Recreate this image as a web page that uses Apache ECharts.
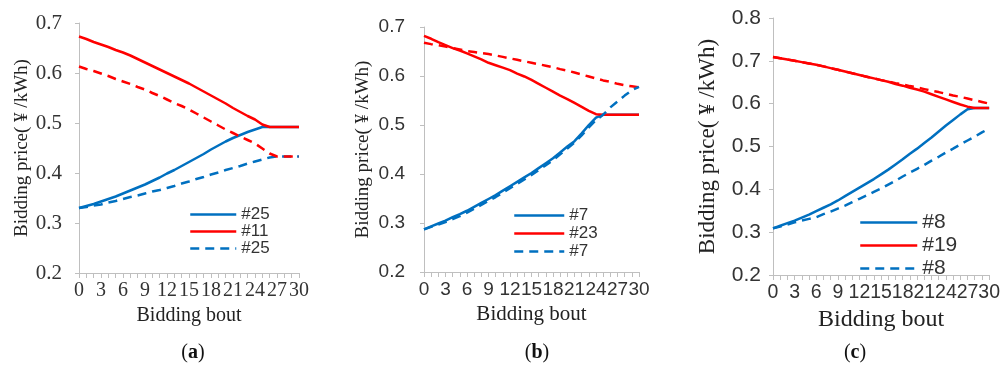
<!DOCTYPE html>
<html>
<head>
<meta charset="utf-8">
<script src="https://cdn.jsdelivr.net/npm/echarts@6/dist/echarts.min.js"></script>
<style>
  html, body { margin: 0; padding: 0; background: #fff; }
  #chart { width: 1003px; height: 369px; }
</style>
</head>
<body>
<div id="chart"></div>
<script>
// bidding bouts 0..30
var bouts = [];
for (var i = 0; i <= 30; i++) bouts.push(String(i));

// panel (a)
var a_blue    = [0.330,0.334,0.338,0.343,0.348,0.353,0.359,0.365,0.371,0.377,0.384,0.391,0.399,0.406,0.414,0.422,0.430,0.438,0.447,0.455,0.463,0.470,0.476,0.482,0.487,0.492,0.492,0.492,0.492,0.492,0.492];
var a_red     = [0.673,0.668,0.662,0.657,0.652,0.646,0.641,0.635,0.628,0.621,0.614,0.607,0.600,0.593,0.586,0.579,0.571,0.563,0.555,0.547,0.539,0.530,0.522,0.514,0.507,0.497,0.492,0.492,0.492,0.492,0.492];
var a_redDash = [0.613,0.608,0.604,0.599,0.594,0.588,0.583,0.578,0.572,0.567,0.560,0.554,0.547,0.540,0.534,0.527,0.519,0.511,0.503,0.495,0.487,0.480,0.473,0.466,0.459,0.449,0.439,0.433,0.433,0.433,0.433];
var a_blueDash= [0.330,0.332,0.335,0.337,0.341,0.344,0.348,0.352,0.355,0.359,0.363,0.366,0.370,0.374,0.379,0.383,0.388,0.392,0.397,0.401,0.406,0.410,0.414,0.419,0.423,0.427,0.431,0.433,0.433,0.433,0.433];

// panel (b)
var b_blue    = [0.287,0.293,0.299,0.305,0.312,0.318,0.325,0.333,0.341,0.349,0.357,0.366,0.375,0.384,0.393,0.402,0.412,0.422,0.432,0.444,0.456,0.467,0.483,0.500,0.515,0.521,0.521,0.521,0.521,0.521,0.521];
var b_red     = [0.682,0.676,0.669,0.663,0.657,0.652,0.646,0.640,0.634,0.627,0.622,0.617,0.612,0.605,0.599,0.592,0.584,0.576,0.568,0.560,0.553,0.545,0.537,0.529,0.522,0.521,0.521,0.521,0.521,0.521,0.521];
var b_redDash = [0.668,0.665,0.663,0.660,0.657,0.654,0.651,0.649,0.647,0.645,0.642,0.639,0.636,0.633,0.630,0.627,0.624,0.621,0.618,0.614,0.611,0.607,0.603,0.599,0.595,0.591,0.588,0.584,0.581,0.579,0.577];
var b_blueDash= [0.287,0.292,0.297,0.302,0.308,0.314,0.321,0.329,0.337,0.345,0.353,0.362,0.371,0.380,0.389,0.398,0.408,0.418,0.428,0.440,0.452,0.464,0.479,0.495,0.510,0.521,0.536,0.548,0.560,0.571,0.578];

// panel (c)
var c_blue    = [0.309,0.315,0.321,0.327,0.334,0.341,0.349,0.357,0.365,0.374,0.384,0.394,0.404,0.414,0.424,0.435,0.446,0.458,0.470,0.483,0.495,0.508,0.521,0.535,0.549,0.562,0.575,0.587,0.590,0.590,0.590];
var c_red     = [0.709,0.706,0.703,0.700,0.697,0.694,0.691,0.687,0.683,0.679,0.675,0.671,0.667,0.663,0.659,0.655,0.651,0.646,0.642,0.637,0.633,0.628,0.622,0.616,0.610,0.604,0.598,0.593,0.590,0.590,0.590];
var c_redDash = [0.709,0.706,0.703,0.700,0.697,0.694,0.691,0.687,0.683,0.679,0.675,0.671,0.667,0.663,0.659,0.655,0.652,0.648,0.645,0.641,0.638,0.634,0.630,0.627,0.623,0.619,0.616,0.612,0.608,0.604,0.600];
var c_blueDash= [0.309,0.313,0.318,0.323,0.327,0.331,0.335,0.342,0.348,0.355,0.362,0.370,0.378,0.386,0.394,0.402,0.411,0.420,0.430,0.439,0.448,0.457,0.467,0.476,0.486,0.495,0.505,0.514,0.523,0.533,0.542];

var BLUE = '#0070C0', RED = '#FF0000', AXIS = '#BFBFBF';
var serif = '"Liberation Serif", "DejaVu Serif", serif';
var sans = '"Liberation Sans", Arial, sans-serif';

var chart = echarts.init(document.getElementById('chart'));

// 一个面板的坐标轴配置
function xAx(idx, font, size, nameSize, nameGap) {
    return {
        type: 'category', gridIndex: idx, data: bouts, boundaryGap: false,
        axisLine: { lineStyle: { color: AXIS, width: 1 } },
        axisTick: { interval: 0, length: 5, lineStyle: { color: AXIS } },
        axisLabel: { interval: 2, color: '#333', fontFamily: font, fontSize: size, margin: 8,
            showMinLabel: true, showMaxLabel: true, hideOverlap: false },
        splitLine: { show: false },
        name: 'Bidding bout', nameLocation: 'middle', nameGap: nameGap,
        nameTextStyle: { fontFamily: serif, fontSize: nameSize, color: '#222' }
    };
}
function yAx(idx, max, font, size, margin, nameSize, nameGap) {
    return {
        type: 'value', gridIndex: idx, min: 0.2, max: max, interval: 0.1,
        axisLine: { show: true, lineStyle: { color: AXIS, width: 1 } },
        axisTick: { show: true, length: 4, lineStyle: { color: AXIS } },
        axisLabel: { color: '#333', fontFamily: font, fontSize: size, margin: margin,
            formatter: function (v) { return v.toFixed(1); } },
        splitLine: { show: false },
        name: 'Bidding price( \u00A5 /kWh)', nameLocation: 'middle', nameGap: nameGap,
        nameTextStyle: { fontFamily: serif, fontSize: nameSize, color: '#222' }
    };
}
function line(name, idx, data, color, dashed) {
    return {
        name: name, type: 'line', xAxisIndex: idx, yAxisIndex: idx, data: data,
        symbol: 'none', smooth: false,
        lineStyle: { color: color, width: 2.5, type: dashed ? [9, 6] : 'solid' },
        itemStyle: { color: color }
    };
}
function legend(names, left, top, w, gap, size) {
    return {
        data: names, orient: 'vertical', left: left, top: top,
        itemWidth: w, itemHeight: 12, itemGap: gap, selectedMode: false,
        itemStyle: { opacity: 0 },
        lineStyle: { width: 2.5 },
        formatter: function (n) { return n.trim(); },
        textStyle: { fontFamily: sans, fontSize: size, color: '#333' }
    };
}
function label(ch, x) {
    return {
        text: '{p|(}{b|' + ch + '}{p|)}', left: x, top: 338, textAlign: 'center',
        textStyle: { rich: {
            p: { fontFamily: serif, fontSize: 20, fontWeight: 'normal', color: '#111' },
            b: { fontFamily: serif, fontSize: 20, fontWeight: 'bold', color: '#111' }
        } }
    };
}

var option = {
    animation: false,
    backgroundColor: '#fff',
    title: [label('a', 188), label('b', 532), label('c', 850)],
    grid: [
        { left: 79, top: 23, width: 220, height: 250 },
        { left: 424, top: 27, width: 215, height: 245 },
        { left: 773, top: 18, width: 219, height: 257 }
    ],
    xAxis: [
        xAx(0, serif, 20, 20, 22),
        xAx(1, sans, 19, 21, 28),
        xAx(2, sans, 19.5, 24, 31)
    ],
    yAxis: [
        yAx(0, 0.7, serif, 21, 17, 19, 46),
        yAx(1, 0.7, sans, 19, 19, 19, 51),
        yAx(2, 0.8, sans, 21, 12, 23, 54)
    ],
    legend: [
        legend(['#25', '#11', '#25 '], 184, 201, 46, 0, 17),
        legend(['#7', '#23', '#7 '], 508, 202, 50, 1, 17),
        legend(['#8', '#19', '#8 '], 854, 207, 57, 2, 21)
    ],
    series: [
        line('#25', 0, a_blue, BLUE, false),
        line('#25 ', 0, a_blueDash, BLUE, true),
        line('#11 ', 0, a_redDash, RED, true),
        line('#11', 0, a_red, RED, false),

        line('#7', 1, b_blue, BLUE, false),
        line('#23 ', 1, b_redDash, RED, true),
        line('#23', 1, b_red, RED, false),
        line('#7 ', 1, b_blueDash, BLUE, true),

        line('#8', 2, c_blue, BLUE, false),
        line('#8 ', 2, c_blueDash, BLUE, true),
        line('#19 ', 2, c_redDash, RED, true),
        line('#19', 2, c_red, RED, false)
    ]
};
chart.setOption(option);
</script>
</body>
</html>
